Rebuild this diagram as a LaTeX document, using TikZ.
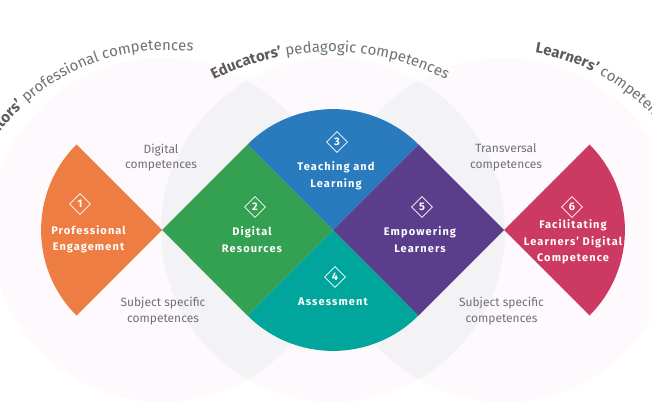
\documentclass[tikz,border=0pt]{standalone}
\usepackage{fontspec}
\setmainfont{Fira Sans}
\newfontfamily\boxfont{Fira Sans}[LetterSpace=10]
\usepackage{tikz}
\usetikzlibrary{shapes.geometric}
\usetikzlibrary{decorations.text}

\definecolor{paleback}{HTML}{FDF9FC}
\definecolor{lensgray}{HTML}{F3F2F4}
\definecolor{engorange}{HTML}{EE7D44}
\definecolor{resgreen}{HTML}{34A052}
\definecolor{teachblue}{HTML}{297BBE}
\definecolor{assteal}{HTML}{00A69C}
\definecolor{empurple}{HTML}{5A3E8C}
\definecolor{facpink}{HTML}{CC3A63}
\definecolor{textgray}{HTML}{707174}
\definecolor{arcbold}{HTML}{5C5C5E}

\newcommand{\arcbf}{\fontsize{15}{18}\selectfont\bfseries\color{arcbold}}
\newcommand{\arcmd}{\fontsize{15}{18}\selectfont\mdseries\color{textgray}}

\begin{document}
\begin{tikzpicture}[x=1pt,y=1pt,
    badge/.style={shape=diamond, aspect=1, draw=white, line width=0.7pt, minimum size=21pt, inner sep=0pt, text=white, font=\boxfont\bfseries\fontsize{11}{11}\selectfont},
    area/.style={text=white, align=center, font=\boxfont\bfseries\fontsize{11}{16.5}\selectfont},
    side/.style={text=textgray, align=center, font=\fontsize{12}{15.5}\selectfont}]
          \useasboundingbox[fill=white] (0,0) rectangle (652,410);
          \coordinate (L) at (162,180);
          \coordinate (M) at (333,180);
          \coordinate (R) at (504,180);
          % big circles
          \fill[paleback] (L) circle[radius=172] (M) circle[radius=172] (R) circle[radius=172];
          \begin{scope}
            \clip (L) circle[radius=172];
            \fill[lensgray] (M) circle[radius=172];
          \end{scope}
          \begin{scope}
            \clip (R) circle[radius=172];
            \fill[lensgray] (M) circle[radius=172];
          \end{scope}
          % areas
          \fill[engorange] (L) -- ++(135:120.92) arc[start angle=135, end angle=225, radius=120.92] -- cycle;
          \fill[resgreen] (L) -- ++(45:120.92) -- (M) -- ++(-135:120.92) -- cycle;
          \fill[teachblue] (M) -- ++(135:120.92) arc[start angle=135, end angle=45, radius=120.92] -- cycle;
          \fill[assteal] (M) -- ++(225:120.92) arc[start angle=225, end angle=315, radius=120.92] -- cycle;
          \fill[empurple] (M) -- ++(45:120.92) -- (R) -- ++(-135:120.92) -- cycle;
          \fill[facpink] (R) -- ++(45:120.92) arc[start angle=45, end angle=-45, radius=120.92] -- cycle;
          % numbers and titles
          \node[badge] (b1) at (80,206) {1};
          \node[area] (engage) at (88.5,170.5) {Professional\\Engagement};
          \node[badge] (b2) at (255,203) {2};
          \node[area] (resources) at (252,170.5) {Digital\\Resources};
          \node[badge] (b3) at (337,268) {3};
          \node[area] (teaching) at (336,234) {Teaching and\\Learning};
          \node[badge] (b4) at (335,133) {4};
          \node[area] (assess) at (333,108) {Assessment};
          \node[badge] (b5) at (422,203) {5};
          \node[area] (empower) at (420,170.5) {Empowering\\Learners};
          \node[badge] (b6) at (572,203) {6};
          \node[area] (facilitate) at (573,168) {Facilitating\\Learners’ Digital\\Competence};
          % competences between areas
          \node[side] (digital) at (161,252.5) {Digital\\competences};
          \node[side] (subjleft) at (163,99) {Subject specific\\competences};
          \node[side] (transv) at (506,252.5) {Transversal\\competences};
          \node[side] (subjright) at (501.5,99) {Subject specific\\competences};
          % curved titles
          \path[decorate, decoration={text along path, text align=right,
              text={|\arcbf|Educators’|\arcmd| professional competences}}]
            (166,150) ++(178:210) arc[start angle=178, end angle=82.6, radius=210];
          \path[decorate, decoration={text along path, text align=center,
              text={|\arcbf|Educators’|\arcmd| pedagogic competences}}]
            (330,100) ++(132:258) arc[start angle=132, end angle=48, radius=258];
          \path[decorate, decoration={text along path, text align=left,
              text={|\arcbf|Learners’|\arcmd| competences}}]
            (500,150) ++(80.4:210) arc[start angle=80.4, end angle=0, radius=210];
        \end{tikzpicture}
\end{document}
